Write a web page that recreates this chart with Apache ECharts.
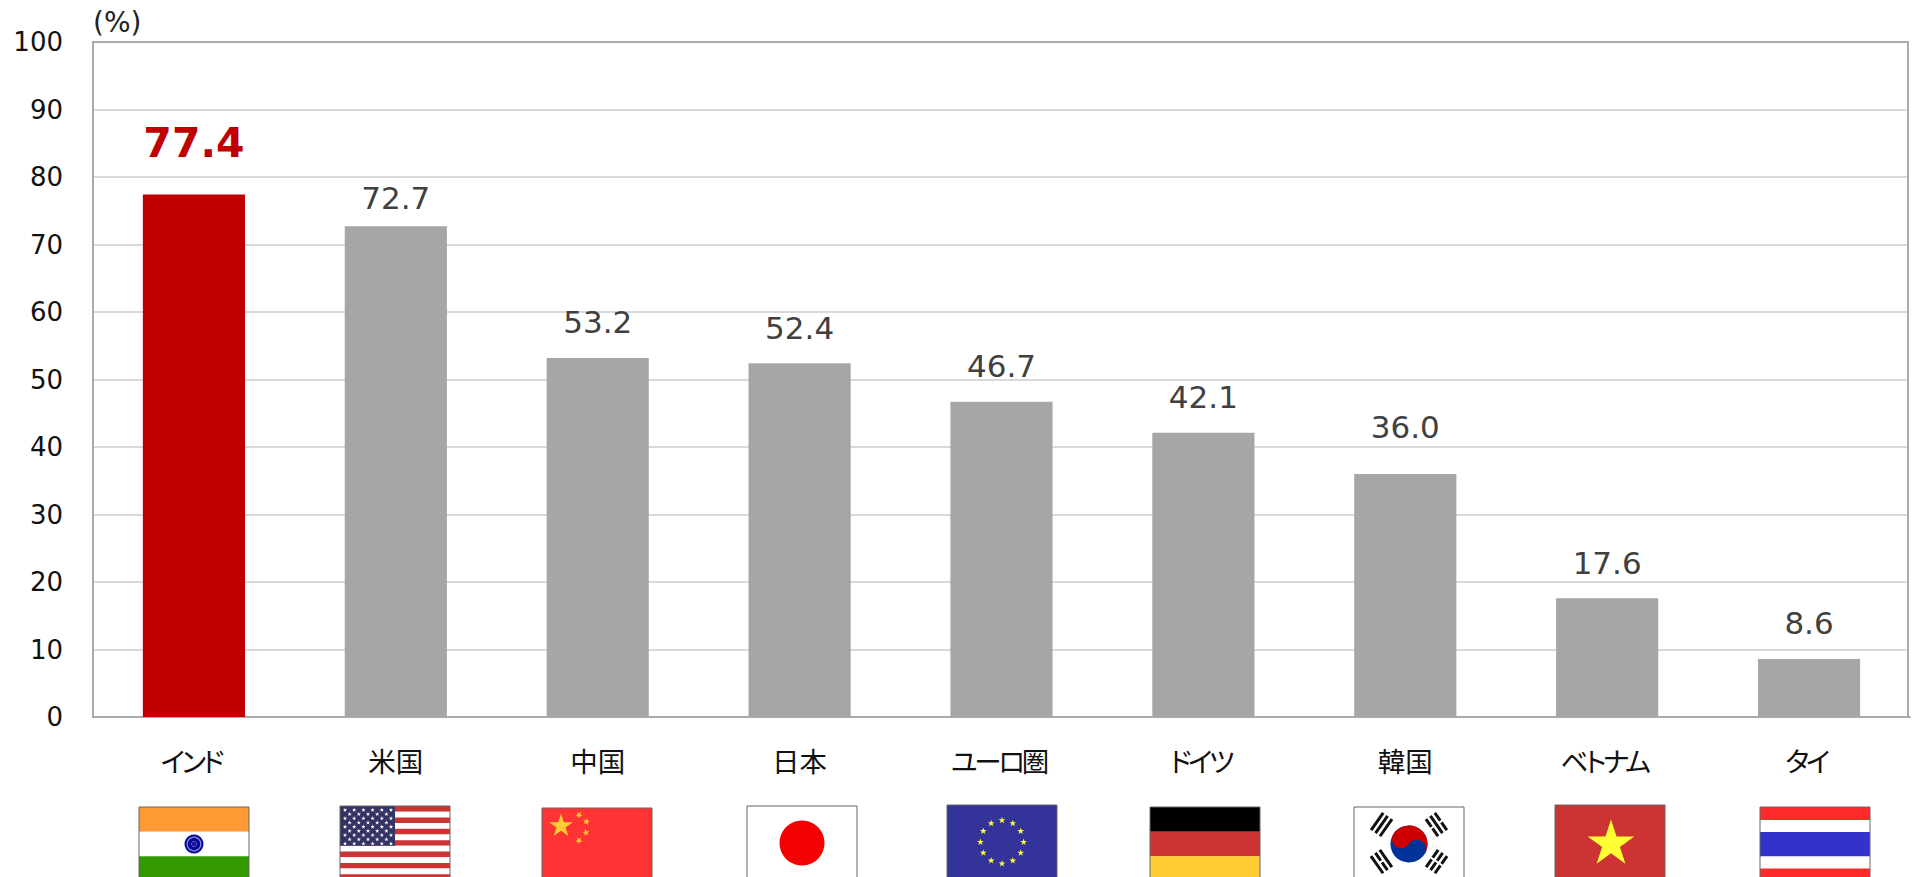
<!DOCTYPE html>
<html><head><meta charset="utf-8">
<style>html,body{margin:0;padding:0;background:#fff;overflow:hidden}#c{width:1912px;height:877px}
svg text{font-feature-settings:"palt" 1}</style>
<script src="https://cdn.jsdelivr.net/npm/echarts@6/dist/echarts.min.js"></script>
</head><body><div id="c"></div>
<script>
const categories = ['インド','米国','中国','日本','ユーロ圏','ドイツ','韓国','ベトナム','タイ'];
const values = [77.4,72.7,53.2,52.4,46.7,42.1,36.0,17.6,8.6];
const yTicks = {min:0,max:100,interval:10};
const unitLabel = '(%)';

const LATIN = '"DejaVu Sans"', CJK = '"Noto Sans CJK JP"';
const labelGap = [31,13,20,20,20,20,32,20,20];
const chart = echarts.init(document.getElementById('c'),null,{renderer:'svg',width:1912,height:877});
chart.setOption({
  animation:false,
  backgroundColor:'#fff',
  grid:{left:93,top:42,right:2,bottom:160,show:false},
  xAxis:{type:'category',
    data:categories,
    axisLine:{show:true,lineStyle:{color:'#ABABAB',width:2}},axisTick:{show:false},
    axisLabel:{margin:29,fontFamily:CJK,fontSize:27.5,color:'#111',interval:0}},
  yAxis:{type:'value',min:yTicks.min,max:yTicks.max,interval:yTicks.interval,
    name:unitLabel,nameLocation:'end',nameGap:6,
    nameTextStyle:{fontFamily:LATIN,fontSize:28,color:'#222',align:'left',verticalAlign:'bottom'},
    axisLine:{show:true,lineStyle:{color:'#ABABAB',width:2}},axisTick:{show:false},
    axisLabel:{margin:30,fontFamily:LATIN,fontSize:26,color:'#111'},
    splitLine:{show:true,showMinLine:false,showMaxLine:false,lineStyle:{color:'#D9D9D9',width:2}}},
  series:[{type:'bar',barCategoryGap:'49.4%',
    data:values.map((v,i)=>i===0?{value:v,itemStyle:{color:'#C00000'},
      label:{fontSize:41,fontWeight:'bold',color:'#C00000',distance:labelGap[i]}}:
      {value:v,label:{distance:labelGap[i]}}),
    itemStyle:{color:'#A6A6A6'},
    label:{show:true,position:'top',distance:19,fontFamily:LATIN,fontSize:31,color:'#404040',
      formatter:p=>p.value.toFixed(1)}}]
});

function star(cx,cy,r,rot){const pts=[];rot=rot||0;
  for(let i=0;i<10;i++){const a=-Math.PI/2+rot+i*Math.PI/5,q=i%2?r*0.382:r;pts.push([cx+q*Math.cos(a),cy+q*Math.sin(a)]);}
  return pts;}
const R=(x,y,w,h,fill)=>({type:'rect',shape:{x,y,width:w,height:h},style:{fill},silent:true});
const S=(cx,cy,r,fill,rot)=>({type:'polygon',shape:{points:star(cx,cy,r,rot)},style:{fill},silent:true});
const C=(cx,cy,r,style)=>({type:'circle',shape:{cx,cy,r},style,silent:true});
const W=110,H=74;

function india(){const k=[R(0,0,W,H/3,'#FF9933'),R(0,H/3,W,H/3,'#FFFFFF'),R(0,2*H/3,W,H/3,'#339900'),
  C(55,37,9.5,{fill:'#0A0A9A'}),C(55,37,6.8,{fill:'none',stroke:'#8A8AD8',lineWidth:1.2}),C(55,37,2.5,{fill:'none',stroke:'#7a7ad0',lineWidth:.8})];return k;}
function usa(){const k=[];const h=H/13;for(let i=0;i<13;i++)k.push(R(0,i*h,W,h,i%2?'#FFFFFF':'#CC3333'));
  k.push(R(0,0,55,7*h,'#333366'));
  for(let r=0;r<9;r++){const n=r%2?5:6;for(let c=0;c<n;c++)k.push(S(5+(r%2?4.6:0)+c*9.2,4+r*4.2,2.3,'#FFFFFF'));}
  return k;}
function china(){return [R(0,0,W,H,'#FF3333'),S(19,18,12.5,'#FFCC33'),S(37,7,3.8,'#FFCC33',.6),S(44.5,13.5,3.8,'#FFCC33',.2),S(44,24.5,3.8,'#FFCC33',-.2),S(37,32.5,3.8,'#FFCC33',-.6)];}
function japan(){return [R(0,0,W,H,'#FFFFFF'),C(55,37,22.5,{fill:'#F50000'})];}
function eu(){const k=[R(0,0,W,H,'#333399')];for(let i=0;i<12;i++){const a=i*Math.PI/6;k.push(S(55+21.6*Math.sin(a),37-21.6*Math.cos(a),3.6,'#FFFF33'));}return k;}
function germany(){return [R(0,0,W,H/3,'#000000'),R(0,H/3,W,H/3,'#CC3333'),R(0,2*H/3,W,H/3,'#FFCC33')];}
function korea(){
  const cx=55,cy=37;
  const tri=(x,y,rot,pat)=>({type:'group',x,y,rotation:rot,silent:true,children:pat.flatMap((b,i)=>{
    const yy=-6.8+i*5.4;const L=21;return b?[R(-L/2,yy,L,3,'#111')]:[R(-L/2,yy,L/2-1,3,'#111'),R(1,yy,L/2-1,3,'#111')];})});
  return [R(0,0,W,H,'#FFFFFF'),
    {type:'group',x:cx,y:cy,rotation:-0.576,silent:true,children:[
      C(0,0,18.5,{fill:'#003399'}),
      {type:'sector',shape:{cx:0,cy:0,r:18.5,r0:0,startAngle:Math.PI,endAngle:2*Math.PI},style:{fill:'#CC0000'},silent:true},
      C(-9.25,0,9.25,{fill:'#CC0000'}),C(9.25,0,9.25,{fill:'#003399'})]},
    tri(27.5,17.5,0.96,[1,1,1]),tri(82.5,17.5,-0.96,[0,1,0]),tri(27.5,54.5,-0.96,[1,0,1]),tri(82.5,54.5,0.96,[0,0,0])];
}
function vietnam(){return [R(0,0,W,H,'#CC3333'),S(56,39,24.5,'#FFFF33')];}
function thai(){return [R(0,0,W,13,'#FF2A2A'),R(0,13,W,12,'#FFFFFF'),R(0,25,W,24.5,'#3333CC'),R(0,49.5,W,12,'#FFFFFF'),R(0,61.5,W,13,'#FF2A2A')];}

const flags=[[india,0,807],[usa,-1,806],[china,-.5,808],[japan,2.2,806],[eu,0,805],[germany,1.8,807],[korea,4.1,807],[vietnam,3.2,805],[thai,6.2,807]];
const elements=flags.map(([fn,dx,top],i)=>{
  const c=chart.convertToPixel({xAxisIndex:0},i);
  return {type:'group',x:Math.round(c+dx-W/2),y:top,silent:true,children:[...fn(),
    {type:'rect',shape:{x:0,y:0,width:W,height:H},style:{fill:'none',stroke:'#666',lineWidth:1},silent:true}]};
});
// plot frame: right edge sits 2px inside the category band, as in the reference
elements.push(R(1909,30,3,700,'#FFFFFF'));
elements.push({type:'rect',shape:{x:93,y:42,width:1815,height:675},style:{fill:'none',stroke:'#ABABAB',lineWidth:2},silent:true});
chart.setOption({graphic:{elements}});
// katakana in the reference is condensed: tighten it
document.querySelectorAll('#c svg text').forEach(t=>{
  if(/[\u30A1-\u30FC]/.test(t.textContent)){t.style.letterSpacing='-3.3px';t.setAttribute('dx','-3');}
});
</script></body></html>
